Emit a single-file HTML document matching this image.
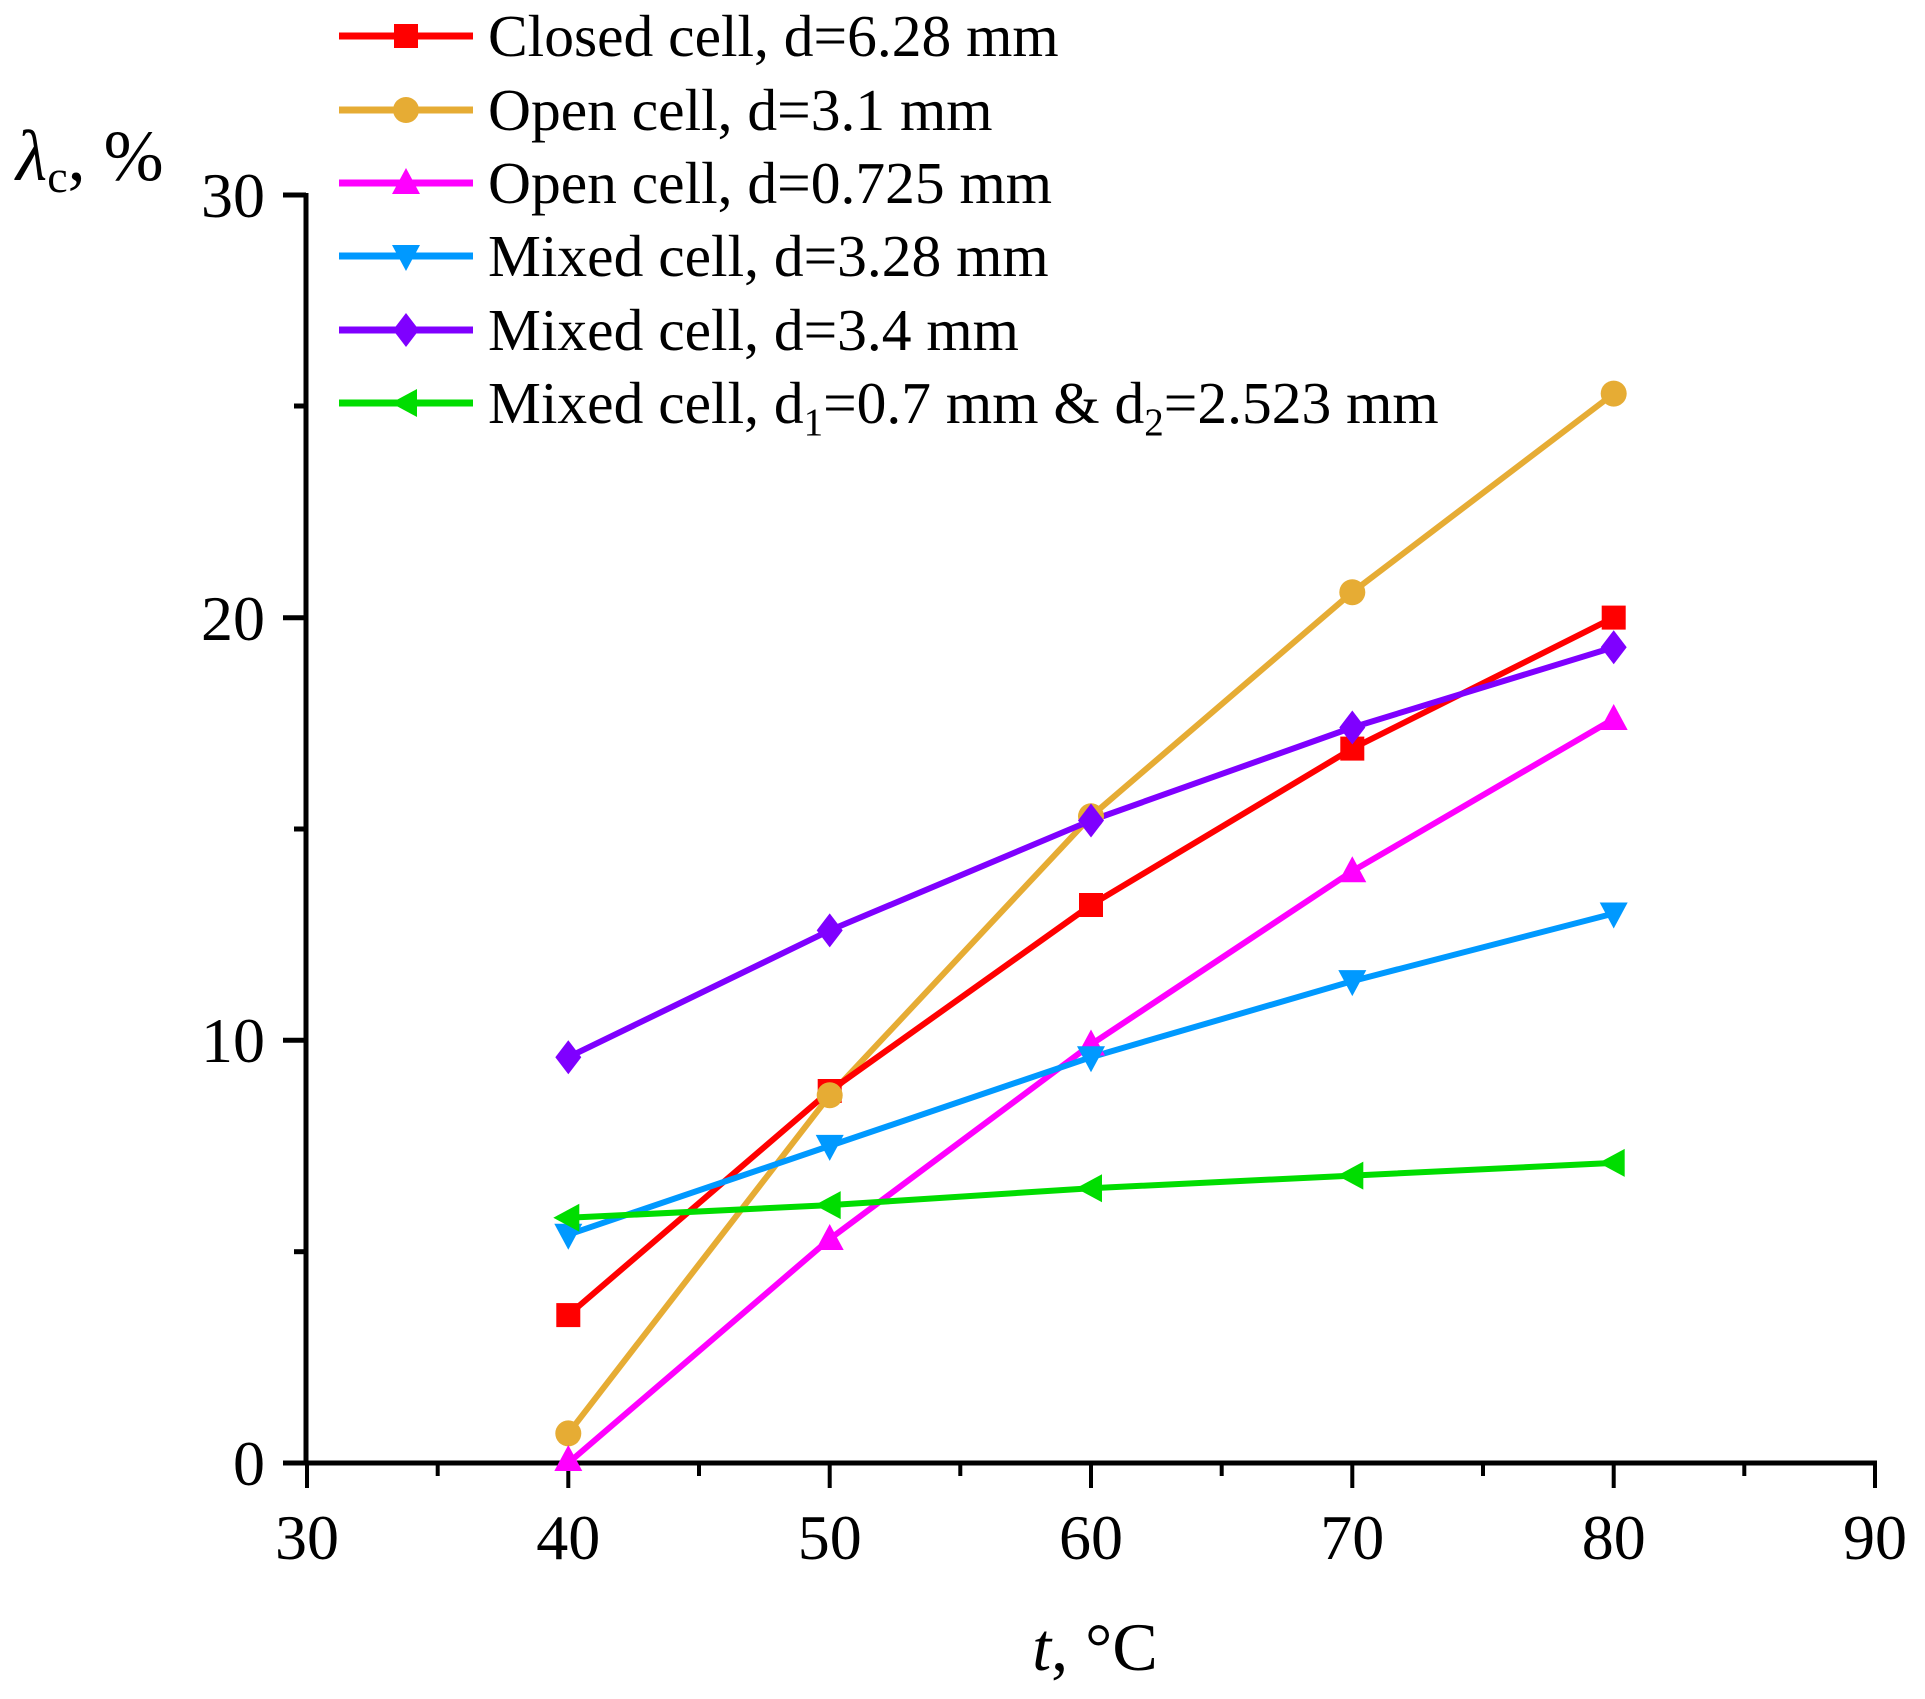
<!DOCTYPE html>
<html><head><meta charset="utf-8"><style>html,body{margin:0;padding:0;background:#fff}svg{display:block}</style></head>
<body>
<svg width="1925" height="1699" viewBox="0 0 1925 1699" xmlns="http://www.w3.org/2000/svg" font-family="Liberation Serif, serif">
<rect width="1925" height="1699" fill="#fff"/>
<defs>
<g id="sq"><rect x="-12" y="-12" width="24" height="24"/></g>
<g id="ci"><circle r="13"/></g>
<g id="tu"><polygon points="0,-15 14,11 -14,11"/></g>
<g id="td"><polygon points="0,15 14,-11 -14,-11"/></g>
<g id="di"><polygon points="0,-17 13,0 0,17 -13,0"/></g>
<g id="tl"><polygon points="-15,0 11,-14 11,14"/></g>
</defs>
<g stroke="#000" stroke-width="5" fill="none">
<line x1="306" y1="193" x2="306" y2="1465"/>
<line x1="304" y1="1463" x2="1877" y2="1463"/>
<line x1="283" y1="195" x2="306" y2="195"/>
<line x1="283" y1="617.7" x2="306" y2="617.7"/>
<line x1="283" y1="1040.3" x2="306" y2="1040.3"/>
<line x1="283" y1="1463" x2="306" y2="1463"/>
<line x1="294" y1="406" x2="306" y2="406"/>
<line x1="294" y1="829" x2="306" y2="829"/>
<line x1="294" y1="1251.7" x2="306" y2="1251.7"/>
<g stroke-width="4">
<line x1="307" y1="1463" x2="307" y2="1488"/>
<line x1="568.3" y1="1463" x2="568.3" y2="1488"/>
<line x1="829.7" y1="1463" x2="829.7" y2="1488"/>
<line x1="1091" y1="1463" x2="1091" y2="1488"/>
<line x1="1352.3" y1="1463" x2="1352.3" y2="1488"/>
<line x1="1613.7" y1="1463" x2="1613.7" y2="1488"/>
<line x1="1875" y1="1463" x2="1875" y2="1488"/>
<line x1="437.7" y1="1463" x2="437.7" y2="1476"/>
<line x1="699" y1="1463" x2="699" y2="1476"/>
<line x1="960.3" y1="1463" x2="960.3" y2="1476"/>
<line x1="1221.7" y1="1463" x2="1221.7" y2="1476"/>
<line x1="1483" y1="1463" x2="1483" y2="1476"/>
<line x1="1744.3" y1="1463" x2="1744.3" y2="1476"/>
</g>
</g>
<g font-size="64" fill="#000">
<g text-anchor="end">
<text x="265" y="217">30</text>
<text x="265" y="640">20</text>
<text x="265" y="1062">10</text>
<text x="265" y="1485">0</text>
</g>
<g text-anchor="middle">
<text x="307" y="1559">30</text>
<text x="568.3" y="1559">40</text>
<text x="829.7" y="1559">50</text>
<text x="1091" y="1559">60</text>
<text x="1352.3" y="1559">70</text>
<text x="1613.7" y="1559">80</text>
<text x="1875" y="1559">90</text>
</g>
<text x="1095" y="1670" text-anchor="middle" font-size="68"><tspan font-style="italic">t</tspan>, °C</text>
<text x="16" y="180" font-size="72"><tspan font-style="italic">λ</tspan><tspan font-size="46" dy="12">c</tspan><tspan dy="-12">, %</tspan></text>
</g>
<g stroke-width="6" fill="none" stroke-linejoin="round">
<polyline stroke="#e6ac34" points="568.3,1433.4 829.7,1095.3 1091,816.3 1352.3,592.2 1613.7,393.6"/>
<polyline stroke="#ff0000" points="568.3,1315.1 829.7,1091.0 1091,905.0 1352.3,748.6 1613.7,617.6"/>
<polyline stroke="#ff00ff" points="568.3,1463 829.7,1239 1091,1044.5 1352.3,871.2 1613.7,719.0"/>
<polyline stroke="#0099ff" points="568.3,1234.7 829.7,1145.9 1091,1057.2 1352.3,981.1 1613.7,913.5"/>
<polyline stroke="#7f00ff" points="568.3,1057.2 829.7,930.4 1091,820.5 1352.3,727.5 1613.7,647.2"/>
<polyline stroke="#00dd00" points="568.3,1217.8 829.7,1205.1 1091,1188.2 1352.3,1175.6 1613.7,1162.9"/>
</g>
<g fill="#ff0000"><use href="#sq" x="568.3" y="1315.1"/><use href="#sq" x="829.7" y="1091"/><use href="#sq" x="1091" y="905"/><use href="#sq" x="1352.3" y="748.6"/><use href="#sq" x="1613.7" y="617.6"/></g>
<g fill="#e6ac34"><use href="#ci" x="568.3" y="1433.4"/><use href="#ci" x="829.7" y="1095.3"/><use href="#ci" x="1091" y="816.3"/><use href="#ci" x="1352.3" y="592.2"/><use href="#ci" x="1613.7" y="393.6"/></g>
<g fill="#ff00ff"><use href="#tu" x="568.3" y="1460"/><use href="#tu" x="829.7" y="1239"/><use href="#tu" x="1091" y="1044.5"/><use href="#tu" x="1352.3" y="871.2"/><use href="#tu" x="1613.7" y="719"/></g>
<g fill="#0099ff"><use href="#td" x="568.3" y="1234.7"/><use href="#td" x="829.7" y="1145.9"/><use href="#td" x="1091" y="1057.2"/><use href="#td" x="1352.3" y="981.1"/><use href="#td" x="1613.7" y="913.5"/></g>
<g fill="#7f00ff"><use href="#di" x="568.3" y="1057.2"/><use href="#di" x="829.7" y="930.4"/><use href="#di" x="1091" y="820.5"/><use href="#di" x="1352.3" y="727.5"/><use href="#di" x="1613.7" y="647.2"/></g>
<g fill="#00dd00"><use href="#tl" x="568.3" y="1217.8"/><use href="#tl" x="829.7" y="1205.1"/><use href="#tl" x="1091" y="1188.2"/><use href="#tl" x="1352.3" y="1175.6"/><use href="#tl" x="1613.7" y="1162.9"/></g>
<g stroke-width="7">
<line x1="339" y1="36" x2="473" y2="36" stroke="#ff0000"/>
<line x1="339" y1="110" x2="473" y2="110" stroke="#e6ac34"/>
<line x1="339" y1="183" x2="473" y2="183" stroke="#ff00ff"/>
<line x1="339" y1="256" x2="473" y2="256" stroke="#0099ff"/>
<line x1="339" y1="330" x2="473" y2="330" stroke="#7f00ff"/>
<line x1="339" y1="403" x2="473" y2="403" stroke="#00dd00"/>
</g>
<use href="#sq" x="406" y="36" fill="#ff0000"/>
<use href="#ci" x="406" y="110" fill="#e6ac34"/>
<use href="#tu" x="406" y="183" fill="#ff00ff"/>
<use href="#td" x="406" y="256" fill="#0099ff"/>
<use href="#di" x="406" y="330" fill="#7f00ff"/>
<use href="#tl" x="406" y="403" fill="#00dd00"/>
<g font-size="59.5" fill="#000">
<text x="488" y="56">Closed cell, d=6.28 mm</text>
<text x="488" y="130">Open cell, d=3.1 mm</text>
<text x="488" y="203">Open cell, d=0.725 mm</text>
<text x="488" y="276">Mixed cell, d=3.28 mm</text>
<text x="488" y="350">Mixed cell, d=3.4 mm</text>
<text x="488" y="423">Mixed cell, d<tspan font-size="39" dy="12">1</tspan><tspan dy="-12">=0.7 mm &amp; d</tspan><tspan font-size="39" dy="12">2</tspan><tspan dy="-12">=2.523 mm</tspan></text>
</g>
</svg>
</body></html>
